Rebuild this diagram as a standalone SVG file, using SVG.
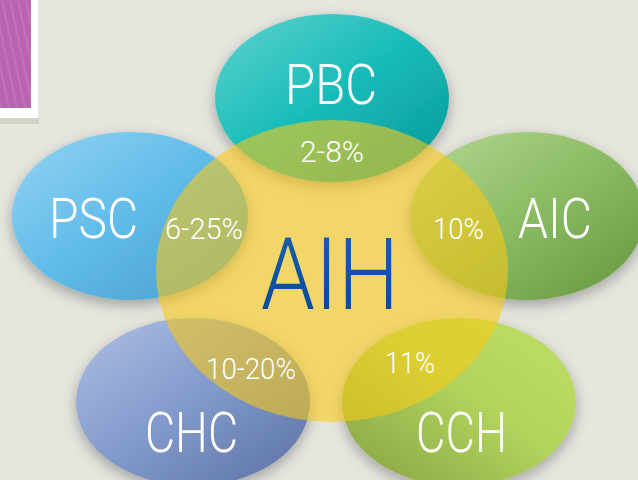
<svg xmlns="http://www.w3.org/2000/svg" width="638" height="480" viewBox="0 0 638 480">
<defs>
<style>
.lbl{font-family:Roboto,"Liberation Sans",sans-serif;font-weight:300;fill:#ffffff}
.big{font-size:56px}
.pct{font-size:30px}
.aih{font-family:Roboto,"Liberation Sans",sans-serif;font-weight:300;font-size:100px;fill:url(#gAIHt)}
</style>
<filter id="sh" x="-20%" y="-20%" width="140%" height="150%">
<feDropShadow dx="0" dy="5" stdDeviation="7" flood-color="#000" flood-opacity="0.3"/>
</filter>
<linearGradient id="gPBC" x1="0" y1="0" x2="1" y2="1">
<stop offset="0" stop-color="#5fd3cf"/><stop offset="0.5" stop-color="#17bbb8"/><stop offset="1" stop-color="#0a9698"/>
</linearGradient>
<linearGradient id="gPSC" x1="0" y1="0" x2="1" y2="1">
<stop offset="0" stop-color="#95d3f3"/><stop offset="0.5" stop-color="#5fbbe9"/><stop offset="1" stop-color="#4a9ccc"/>
</linearGradient>
<linearGradient id="gAIC" x1="0" y1="0" x2="1" y2="1">
<stop offset="0" stop-color="#b6d894"/><stop offset="0.5" stop-color="#8bbb63"/><stop offset="1" stop-color="#64953f"/>
</linearGradient>
<linearGradient id="gCHC" x1="0" y1="0" x2="1" y2="1">
<stop offset="0" stop-color="#adbfe2"/><stop offset="0.5" stop-color="#8299cc"/><stop offset="1" stop-color="#5a70a2"/>
</linearGradient>
<linearGradient id="gCCH" x1="1" y1="0" x2="0" y2="1">
<stop offset="0" stop-color="#c0de66"/><stop offset="0.45" stop-color="#b2d45c"/><stop offset="1" stop-color="#86a044"/>
</linearGradient>
<linearGradient id="gAIHt" x1="0" y1="0" x2="0" y2="1">
<stop offset="0" stop-color="#1e60ae"/><stop offset="1" stop-color="#004896"/>
</linearGradient>
<pattern id="stripes" width="8" height="40" patternUnits="userSpaceOnUse" patternTransform="skewX(12)">
<rect width="8" height="40" fill="#b865b0"/>
<line x1="2" y1="0" x2="2" y2="40" stroke="#cc8ac6" stroke-width="0.8"/>
</pattern>
</defs>
<rect width="638" height="480" fill="#e6e6df"/>
<g id="corner">
<rect x="0" y="118" width="39" height="6" fill="#d2d2c6"/>
<rect x="0" y="0" width="38" height="118" fill="#ffffff"/>
<rect x="0" y="0" width="31" height="108" fill="url(#stripes)"/>
</g>
<g id="PBC"><ellipse cx="332" cy="98" rx="117" ry="84" fill="url(#gPBC)" filter="url(#sh)"/></g>
<g id="PSC"><ellipse cx="130" cy="216" rx="118" ry="84" fill="url(#gPSC)" filter="url(#sh)"/></g>
<g id="AIC"><ellipse cx="527" cy="216" rx="117" ry="84" fill="url(#gAIC)" filter="url(#sh)"/></g>
<g id="CHC"><ellipse cx="193" cy="402" rx="117" ry="84" fill="url(#gCHC)" filter="url(#sh)"/></g>
<g id="CCH"><ellipse cx="459" cy="402" rx="117" ry="84" fill="url(#gCCH)" filter="url(#sh)"/></g>
<g id="AIH"><ellipse cx="332" cy="271" rx="176" ry="151" fill="#fac914" fill-opacity="0.58"/></g>
<g id="labels">
<text class="lbl big" x="285" y="104" textLength="92" lengthAdjust="spacingAndGlyphs">PBC</text>
<text class="lbl big" x="49" y="238" textLength="89" lengthAdjust="spacingAndGlyphs">PSC</text>
<text class="lbl big" x="518" y="238" textLength="74" lengthAdjust="spacingAndGlyphs">AIC</text>
<text class="lbl big" x="145" y="452" textLength="93" lengthAdjust="spacingAndGlyphs">CHC</text>
<text class="lbl big" x="416" y="452" textLength="91" lengthAdjust="spacingAndGlyphs">CCH</text>
<text class="aih" x="261" y="309" textLength="138" lengthAdjust="spacingAndGlyphs">AIH</text>
<text class="lbl pct" x="300" y="162" textLength="64" lengthAdjust="spacingAndGlyphs">2-8%</text>
<text class="lbl pct" x="165" y="239" textLength="78" lengthAdjust="spacingAndGlyphs">6-25%</text>
<text class="lbl pct" x="433" y="239" textLength="51" lengthAdjust="spacingAndGlyphs">10%</text>
<text class="lbl pct" x="206" y="379" textLength="90" lengthAdjust="spacingAndGlyphs">10-20%</text>
<text class="lbl pct" x="385" y="373" textLength="50" lengthAdjust="spacingAndGlyphs">11%</text>
</g>
</svg>
